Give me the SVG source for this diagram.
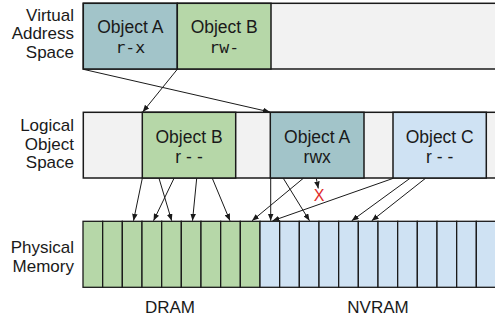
<svg xmlns="http://www.w3.org/2000/svg" width="495" height="321" viewBox="0 0 495 321">
  <defs>
    <style>
      .lbl { font-family: "Liberation Sans", Arial, sans-serif; font-size: 17px; fill: #1a1a1a; text-anchor: end; }
      .name { font-family: "Liberation Sans", Arial, sans-serif; font-size: 17.5px; fill: #1a1a1a; text-anchor: middle; }
      .mono { font-family: "DejaVu Sans Mono", "Liberation Mono", monospace; font-size: 16.5px; fill: #1a1a1a; text-anchor: middle; }
      .perm { font-family: "Liberation Sans", Arial, sans-serif; font-size: 17.5px; fill: #1a1a1a; text-anchor: middle; }
      .box { stroke: #1a1a1a; stroke-width: 1.5; }
      .gray { fill: #f2f2f2; }
      .objA { fill: #a2c4c9; }
      .objB { fill: #b6d7a8; }
      .objC { fill: #cfe2f3; }
      .cell { stroke: #1a1a1a; stroke-width: 1.3; }
      .conn line { stroke: #1a1a1a; stroke-width: 1; marker-end: url(#ah); }
      .mem { font-family: "Liberation Sans", Arial, sans-serif; font-size: 17px; fill: #1a1a1a; text-anchor: middle; }
    </style>
    <marker id="ah" viewBox="0 0 10 8" refX="10" refY="4" markerWidth="7" markerHeight="5.6" markerUnits="userSpaceOnUse" orient="auto">
      <path d="M0,0 L10,4 L0,8 Z" fill="#1a1a1a"/>
    </marker>
  </defs>

  <!-- Row labels -->
  <g id="label-virtual">
    <text class="lbl" x="74" y="20.7">Virtual</text>
    <text class="lbl" x="74" y="39.3">Address</text>
    <text class="lbl" x="74" y="57.5">Space</text>
  </g>
  <g id="label-logical">
    <text class="lbl" x="74" y="130.7">Logical</text>
    <text class="lbl" x="74" y="149.5">Object</text>
    <text class="lbl" x="74" y="168.3">Space</text>
  </g>
  <g id="label-physical">
    <text class="lbl" x="74" y="253.3">Physical</text>
    <text class="lbl" x="74" y="271.7">Memory</text>
  </g>

  <!-- Virtual address space -->
  <g id="virtual-space">
    <rect class="box gray" x="83.3" y="3.3" width="420" height="65.7"/>
  </g>
  <g id="virtual-objA">
    <rect class="box objA" x="83.3" y="3.3" width="94" height="65.7"/>
    <text class="name" x="130.3" y="32.5">Object A</text>
    <text class="mono" x="130.3" y="53">r-x</text>
  </g>
  <g id="virtual-objB">
    <rect class="box objB" x="177.3" y="3.3" width="93.7" height="65.7"/>
    <text class="name" x="224.2" y="32.5">Object B</text>
    <text class="mono" x="224.2" y="53">rw-</text>
  </g>

  <!-- Logical object space -->
  <g id="logical-space">
    <rect class="box gray" x="83.3" y="112.3" width="420" height="65.7"/>
  </g>
  <g id="logical-objB">
    <rect class="box objB" x="142.3" y="112.3" width="93.4" height="65.7"/>
    <text class="name" x="189" y="142.5">Object B</text>
    <text class="perm" x="191.5" y="162.5" letter-spacing="5">r--</text>
  </g>
  <g id="logical-objA">
    <rect class="box objA" x="270.3" y="112.3" width="93.7" height="65.7"/>
    <text class="name" x="317.2" y="142.5">Object A</text>
    <text class="perm" x="317.2" y="162.5">rwx</text>
  </g>
  <g id="logical-objC">
    <rect class="box objC" x="393" y="112.3" width="93.3" height="65.7"/>
    <text class="name" x="439.7" y="142.5">Object C</text>
    <text class="perm" x="442.2" y="162.5" letter-spacing="5">r--</text>
  </g>

  <!-- Physical memory -->
  <g id="dram">
    <rect class="cell objB" x="83" y="221.3" width="19.67" height="66"/>
    <rect class="cell objB" x="102.67" y="221.3" width="19.67" height="66"/>
    <rect class="cell objB" x="122.33" y="221.3" width="19.67" height="66"/>
    <rect class="cell objB" x="142" y="221.3" width="19.67" height="66"/>
    <rect class="cell objB" x="161.67" y="221.3" width="19.67" height="66"/>
    <rect class="cell objB" x="181.33" y="221.3" width="19.67" height="66"/>
    <rect class="cell objB" x="201" y="221.3" width="19.67" height="66"/>
    <rect class="cell objB" x="220.67" y="221.3" width="19.67" height="66"/>
    <rect class="cell objB" x="240.33" y="221.3" width="19.67" height="66"/>
    <text class="mem" x="170" y="312.5">DRAM</text>
  </g>
  <g id="nvram">
    <rect class="cell objC" x="260" y="221.3" width="19.67" height="66"/>
    <rect class="cell objC" x="279.67" y="221.3" width="19.67" height="66"/>
    <rect class="cell objC" x="299.33" y="221.3" width="19.67" height="66"/>
    <rect class="cell objC" x="319" y="221.3" width="19.67" height="66"/>
    <rect class="cell objC" x="338.67" y="221.3" width="19.67" height="66"/>
    <rect class="cell objC" x="358.33" y="221.3" width="19.67" height="66"/>
    <rect class="cell objC" x="378" y="221.3" width="19.67" height="66"/>
    <rect class="cell objC" x="397.67" y="221.3" width="19.67" height="66"/>
    <rect class="cell objC" x="417.33" y="221.3" width="19.67" height="66"/>
    <rect class="cell objC" x="437" y="221.3" width="19.67" height="66"/>
    <rect class="cell objC" x="456.67" y="221.3" width="19.67" height="66"/>
    <rect class="cell objC" x="476.33" y="221.3" width="19.67" height="66"/>
    <text class="mem" x="378" y="312.5">NVRAM</text>
  </g>

  <!-- Connectors -->
  <g id="connectors" class="conn">
    <line x1="83.3" y1="69.3" x2="270" y2="112"/>
    <line x1="177.3" y1="69.3" x2="142.7" y2="112"/>

    <line x1="142.3" y1="178.3" x2="133.5" y2="220.8"/>
    <line x1="159" y1="178.3" x2="171.7" y2="220.8"/>
    <line x1="174" y1="178.3" x2="153.5" y2="220.8"/>
    <line x1="196.7" y1="178.3" x2="192.5" y2="220.8"/>
    <line x1="212.3" y1="178.3" x2="230" y2="220.8"/>

    <line x1="270.7" y1="178.3" x2="270.7" y2="220.8"/>
    <line x1="283.3" y1="178.3" x2="309.5" y2="220.8"/>
    <line x1="303.3" y1="178.3" x2="252" y2="220.8"/>
    <line x1="316.3" y1="178.3" x2="318.3" y2="188.5"/>

    <line x1="393.3" y1="178.3" x2="272.5" y2="220.8"/>
    <line x1="410" y1="178.3" x2="351.7" y2="220.8"/>
    <line x1="425.5" y1="178.3" x2="371.7" y2="220.8"/>
  </g>
  <text x="319" y="200.5" font-family="Liberation Sans, Arial, sans-serif" font-size="16" fill="#e02b2b" text-anchor="middle">X</text>
</svg>
